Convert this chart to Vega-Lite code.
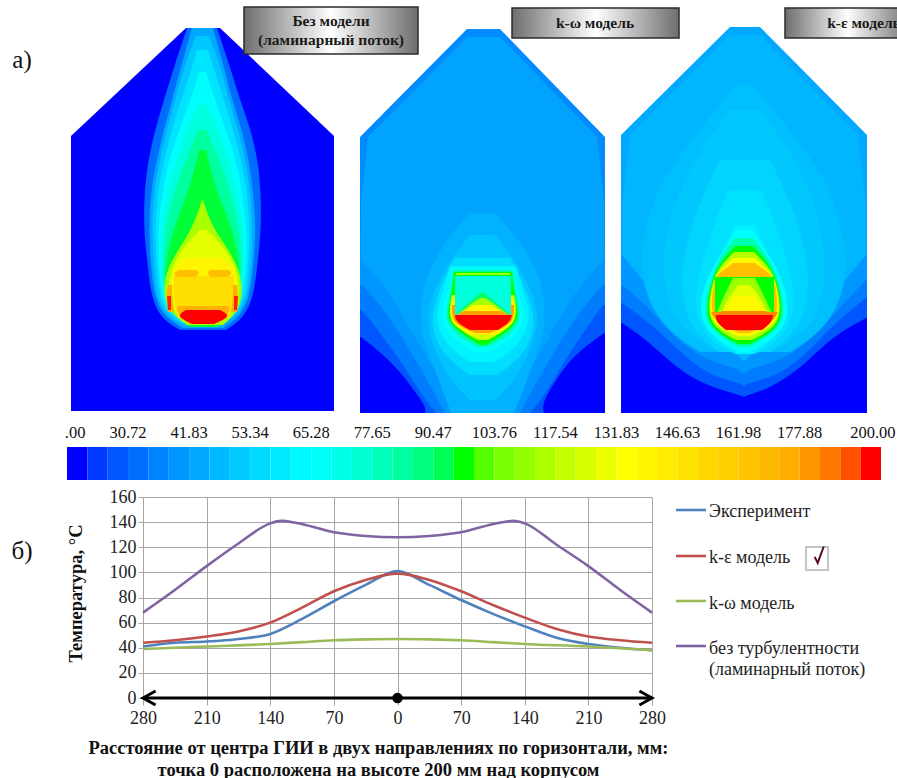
{
"$schema":"https://vega.github.io/schema/vega-lite/v6.json",
"padding":0,
"background":"white",
"config":{"view":{"stroke":null},"font":"Liberation Serif"},
"bounds":"flush",
"spacing":0,
"resolve":{"scale":{"color":"independent"}},
"datasets":{
"outline":[
{"s":"a0","T":20,"y":28,"l":186,"r":220},{"s":"a0","T":20,"y":136,"l":71,"r":334},{"s":"a0","T":20,"y":411,"l":71,"r":334},
{"s":"b0","T":36,"y":29,"l":467,"r":500},{"s":"b0","T":36,"y":137,"l":360,"r":605},{"s":"b0","T":36,"y":413,"l":360,"r":605},
{"s":"b00","T":41,"y":37,"l":467,"r":500},{"s":"b00","T":41,"y":137,"l":368,"r":597},{"s":"b00","T":41,"y":200,"l":361,"r":604},{"s":"b00","T":41,"y":413,"l":360,"r":605},
{"s":"c0","T":42,"y":27,"l":730,"r":760},{"s":"c0","T":42,"y":135,"l":621,"r":867},{"s":"c0","T":42,"y":413,"l":621,"r":867},
{"s":"c00","T":45,"y":35,"l":730,"r":760},{"s":"c00","T":45,"y":135,"l":630,"r":858},{"s":"c00","T":45,"y":200,"l":623,"r":865},{"s":"c00","T":45,"y":413,"l":621,"r":867}
],
"contours":[
{"s":"a1","T":30,"y":28,"l":187,"r":217},{"s":"a1","T":30,"y":67,"l":174,"r":230},{"s":"a1","T":30,"y":100,"l":164,"r":240},{"s":"a1","T":30,"y":133,"l":154,"r":252},{"s":"a1","T":30,"y":167,"l":147,"r":259},{"s":"a1","T":30,"y":200,"l":144,"r":261},{"s":"a1","T":30,"y":233,"l":144,"r":261},{"s":"a1","T":30,"y":267,"l":148,"r":257},{"s":"a1","T":30,"y":295,"l":151,"r":254},{"s":"a1","T":30,"y":318,"l":160,"r":244},{"s":"a1","T":30,"y":330,"l":180,"r":226},
{"s":"a2","T":42,"y":28,"l":192,"r":213},{"s":"a2","T":42,"y":67,"l":181,"r":224},{"s":"a2","T":42,"y":100,"l":172,"r":232},{"s":"a2","T":42,"y":133,"l":163,"r":243},{"s":"a2","T":42,"y":167,"l":155,"r":250},{"s":"a2","T":42,"y":200,"l":150,"r":254},{"s":"a2","T":42,"y":233,"l":149,"r":256},{"s":"a2","T":42,"y":267,"l":151,"r":253},{"s":"a2","T":42,"y":295,"l":154,"r":250},{"s":"a2","T":42,"y":316,"l":163,"r":241},{"s":"a2","T":42,"y":328,"l":183,"r":223},
{"s":"a25","T":49,"y":36,"l":196,"r":209},{"s":"a25","T":49,"y":67,"l":184,"r":221},{"s":"a25","T":49,"y":100,"l":175,"r":229},{"s":"a25","T":49,"y":133,"l":166,"r":239},{"s":"a25","T":49,"y":167,"l":158,"r":247},{"s":"a25","T":49,"y":200,"l":153,"r":251},{"s":"a25","T":49,"y":233,"l":152,"r":253},{"s":"a25","T":49,"y":267,"l":154,"r":251},{"s":"a25","T":49,"y":295,"l":156,"r":248},{"s":"a25","T":49,"y":315,"l":165,"r":239},{"s":"a25","T":49,"y":326,"l":186,"r":220},
{"s":"a3","T":56,"y":50,"l":197,"r":208},{"s":"a3","T":56,"y":75,"l":190,"r":216},{"s":"a3","T":56,"y":100,"l":181,"r":224},{"s":"a3","T":56,"y":133,"l":171,"r":234},{"s":"a3","T":56,"y":167,"l":162,"r":243},{"s":"a3","T":56,"y":200,"l":157,"r":248},{"s":"a3","T":56,"y":233,"l":155,"r":250},{"s":"a3","T":56,"y":267,"l":157,"r":248},{"s":"a3","T":56,"y":295,"l":159,"r":246},{"s":"a3","T":56,"y":314,"l":167,"r":237},{"s":"a3","T":56,"y":325,"l":188,"r":218},
{"s":"a4","T":64,"y":72,"l":199,"r":206},{"s":"a4","T":64,"y":100,"l":191,"r":215},{"s":"a4","T":64,"y":133,"l":178,"r":227},{"s":"a4","T":64,"y":167,"l":167,"r":238},{"s":"a4","T":64,"y":200,"l":161,"r":243},{"s":"a4","T":64,"y":233,"l":158,"r":247},{"s":"a4","T":64,"y":267,"l":159,"r":246},{"s":"a4","T":64,"y":295,"l":161,"r":243},{"s":"a4","T":64,"y":313,"l":169,"r":235},{"s":"a4","T":64,"y":324,"l":190,"r":216},
{"s":"a45","T":72,"y":105,"l":198,"r":207},{"s":"a45","T":72,"y":133,"l":186,"r":219},{"s":"a45","T":72,"y":167,"l":174,"r":231},{"s":"a45","T":72,"y":200,"l":166,"r":239},{"s":"a45","T":72,"y":233,"l":161,"r":244},{"s":"a45","T":72,"y":267,"l":161,"r":244},{"s":"a45","T":72,"y":295,"l":163,"r":241},{"s":"a45","T":72,"y":312,"l":171,"r":233},{"s":"a45","T":72,"y":323,"l":192,"r":214},
{"s":"a5","T":82,"y":130,"l":198,"r":207},{"s":"a5","T":82,"y":167,"l":183,"r":222},{"s":"a5","T":82,"y":200,"l":172,"r":233},{"s":"a5","T":82,"y":233,"l":165,"r":240},{"s":"a5","T":82,"y":267,"l":163,"r":242},{"s":"a5","T":82,"y":295,"l":165,"r":239},{"s":"a5","T":82,"y":312,"l":173,"r":232},{"s":"a5","T":82,"y":323,"l":192,"r":214},
{"s":"a6","T":93,"y":150,"l":199,"r":206},{"s":"a6","T":93,"y":175,"l":193,"r":212},{"s":"a6","T":93,"y":200,"l":185,"r":220},{"s":"a6","T":93,"y":233,"l":172,"r":234},{"s":"a6","T":93,"y":267,"l":165,"r":240},{"s":"a6","T":93,"y":295,"l":165,"r":240},{"s":"a6","T":93,"y":312,"l":172,"r":234},{"s":"a6","T":93,"y":327,"l":190,"r":218},
{"s":"a7","T":112,"y":200,"l":202,"r":203},{"s":"a7","T":112,"y":227,"l":193,"r":212},{"s":"a7","T":112,"y":247,"l":180,"r":227},{"s":"a7","T":112,"y":267,"l":168,"r":238},{"s":"a7","T":112,"y":287,"l":163,"r":243},{"s":"a7","T":112,"y":310,"l":167,"r":240},{"s":"a7","T":112,"y":325,"l":187,"r":223},
{"s":"a8","T":125,"y":230,"l":200,"r":207},{"s":"a8","T":125,"y":243,"l":187,"r":220},{"s":"a8","T":125,"y":260,"l":175,"r":233},{"s":"a8","T":125,"y":283,"l":168,"r":240},{"s":"a8","T":125,"y":307,"l":168,"r":237},{"s":"a8","T":125,"y":322,"l":188,"r":220},
{"s":"a9","T":137,"y":258,"l":185,"r":222},{"s":"a9","T":137,"y":267,"l":175,"r":233},{"s":"a9","T":137,"y":272,"l":172,"r":236},{"s":"a9","T":137,"y":300,"l":172,"r":236},{"s":"a9","T":137,"y":319,"l":186,"r":222},
{"s":"a10","T":148,"y":276,"l":174,"r":234},{"s":"a10","T":148,"y":300,"l":174,"r":234},{"s":"a10","T":148,"y":318,"l":178,"r":230},
{"s":"a11","T":172,"y":285,"l":168,"r":172},{"s":"a11","T":172,"y":295,"l":166,"r":172},{"s":"a11","T":172,"y":312,"l":168,"r":174},
{"s":"a12","T":198,"y":296,"l":167,"r":171},{"s":"a12","T":198,"y":310,"l":168,"r":171},
{"s":"a13","T":172,"y":285,"l":233,"r":237},{"s":"a13","T":172,"y":298,"l":233,"r":238},{"s":"a13","T":172,"y":312,"l":231,"r":237},
{"s":"a14","T":198,"y":296,"l":234,"r":238},{"s":"a14","T":198,"y":310,"l":234,"r":237},
{"s":"a15","T":165,"y":270,"l":180,"r":196},{"s":"a15","T":165,"y":273,"l":172,"r":200},{"s":"a15","T":165,"y":277,"l":178,"r":195},
{"s":"a16","T":165,"y":270,"l":210,"r":228},{"s":"a16","T":165,"y":273,"l":207,"r":233},{"s":"a16","T":165,"y":277,"l":211,"r":227},
{"s":"a17","T":172,"y":306,"l":178,"r":228},{"s":"a17","T":172,"y":312,"l":176,"r":231},{"s":"a17","T":172,"y":321,"l":187,"r":218},
{"s":"a18","T":200,"y":310,"l":186,"r":220},{"s":"a18","T":200,"y":315,"l":178,"r":229},{"s":"a18","T":200,"y":319,"l":182,"r":225},{"s":"a18","T":200,"y":324,"l":192,"r":214},

{"s":"b1","T":38,"y":260,"l":360,"r":361},{"s":"b1","T":38,"y":285,"l":360,"r":385},{"s":"b1","T":38,"y":320,"l":360,"r":405},{"s":"b1","T":38,"y":360,"l":360,"r":428},{"s":"b1","T":38,"y":413,"l":360,"r":465},
{"s":"b2","T":38,"y":260,"l":604,"r":605},{"s":"b2","T":38,"y":285,"l":580,"r":605},{"s":"b2","T":38,"y":320,"l":558,"r":605},{"s":"b2","T":38,"y":360,"l":537,"r":605},{"s":"b2","T":38,"y":413,"l":500,"r":605},
{"s":"b3","T":33,"y":285,"l":360,"r":362},{"s":"b3","T":33,"y":310,"l":360,"r":385},{"s":"b3","T":33,"y":350,"l":360,"r":410},{"s":"b3","T":33,"y":385,"l":360,"r":430},{"s":"b3","T":33,"y":413,"l":360,"r":445},
{"s":"b4","T":33,"y":285,"l":603,"r":605},{"s":"b4","T":33,"y":310,"l":580,"r":605},{"s":"b4","T":33,"y":350,"l":555,"r":605},{"s":"b4","T":33,"y":385,"l":535,"r":605},{"s":"b4","T":33,"y":413,"l":520,"r":605},
{"s":"b5","T":27,"y":310,"l":360,"r":362},{"s":"b5","T":27,"y":330,"l":360,"r":378},{"s":"b5","T":27,"y":360,"l":360,"r":400},{"s":"b5","T":27,"y":395,"l":360,"r":422},{"s":"b5","T":27,"y":413,"l":360,"r":436},
{"s":"b6","T":27,"y":305,"l":603,"r":605},{"s":"b6","T":27,"y":330,"l":585,"r":605},{"s":"b6","T":27,"y":360,"l":565,"r":605},{"s":"b6","T":27,"y":395,"l":545,"r":605},{"s":"b6","T":27,"y":413,"l":530,"r":605},
{"s":"b7","T":20,"y":337,"l":360,"r":361},{"s":"b7","T":20,"y":350,"l":360,"r":378},{"s":"b7","T":20,"y":370,"l":360,"r":399},{"s":"b7","T":20,"y":393,"l":360,"r":416},{"s":"b7","T":20,"y":407,"l":360,"r":426},{"s":"b7","T":20,"y":413,"l":360,"r":425},
{"s":"b8","T":20,"y":333,"l":604,"r":605},{"s":"b8","T":20,"y":353,"l":577,"r":605},{"s":"b8","T":20,"y":367,"l":565,"r":605},{"s":"b8","T":20,"y":383,"l":554,"r":605},{"s":"b8","T":20,"y":403,"l":542,"r":605},{"s":"b8","T":20,"y":413,"l":544,"r":605},
{"s":"b11","T":44,"y":213,"l":470,"r":495},{"s":"b11","T":44,"y":235,"l":450,"r":515},{"s":"b11","T":44,"y":267,"l":430,"r":537},{"s":"b11","T":44,"y":300,"l":420,"r":545},{"s":"b11","T":44,"y":333,"l":420,"r":545},{"s":"b11","T":44,"y":367,"l":434,"r":532},{"s":"b11","T":44,"y":413,"l":451,"r":514},
{"s":"b12","T":48,"y":235,"l":470,"r":495},{"s":"b12","T":48,"y":260,"l":450,"r":515},{"s":"b12","T":48,"y":290,"l":433,"r":532},{"s":"b12","T":48,"y":320,"l":426,"r":540},{"s":"b12","T":48,"y":350,"l":434,"r":530},{"s":"b12","T":48,"y":380,"l":450,"r":516},{"s":"b12","T":48,"y":400,"l":470,"r":495},
{"s":"b13","T":54,"y":258,"l":455,"r":510},{"s":"b13","T":54,"y":275,"l":445,"r":520},{"s":"b13","T":54,"y":300,"l":436,"r":530},{"s":"b13","T":54,"y":325,"l":430,"r":536},{"s":"b13","T":54,"y":355,"l":442,"r":525},{"s":"b13","T":54,"y":375,"l":470,"r":497},
{"s":"b14","T":60,"y":266,"l":450,"r":516},{"s":"b14","T":60,"y":300,"l":440,"r":526},{"s":"b14","T":60,"y":320,"l":435,"r":531},{"s":"b14","T":60,"y":345,"l":445,"r":520},{"s":"b14","T":60,"y":362,"l":470,"r":495},
{"s":"b15","T":65,"y":268,"l":452,"r":514},{"s":"b15","T":65,"y":290,"l":449,"r":517},{"s":"b15","T":65,"y":315,"l":440,"r":526},{"s":"b15","T":65,"y":335,"l":447,"r":519},{"s":"b15","T":65,"y":352,"l":475,"r":490},
{"s":"b16","T":80,"y":270,"l":453,"r":513},{"s":"b16","T":80,"y":300,"l":449,"r":517},{"s":"b16","T":80,"y":318,"l":444,"r":522},{"s":"b16","T":80,"y":335,"l":455,"r":511},{"s":"b16","T":80,"y":347,"l":478,"r":488},
{"s":"b17","T":95,"y":272,"l":454,"r":512},{"s":"b17","T":95,"y":300,"l":451,"r":515},{"s":"b17","T":95,"y":318,"l":446,"r":520},{"s":"b17","T":95,"y":332,"l":458,"r":508},{"s":"b17","T":95,"y":345,"l":480,"r":486},
{"s":"b18","T":120,"y":295,"l":452,"r":514},{"s":"b18","T":120,"y":318,"l":448,"r":518},{"s":"b18","T":120,"y":330,"l":460,"r":506},{"s":"b18","T":120,"y":340,"l":478,"r":488},
{"s":"b19","T":140,"y":300,"l":452,"r":514},{"s":"b19","T":140,"y":320,"l":449,"r":516},{"s":"b19","T":140,"y":328,"l":458,"r":508},{"s":"b19","T":140,"y":335,"l":470,"r":495},
{"s":"b20","T":175,"y":305,"l":452,"r":514},{"s":"b20","T":175,"y":320,"l":452,"r":514},{"s":"b20","T":175,"y":326,"l":460,"r":506},{"s":"b20","T":175,"y":333,"l":475,"r":490},
{"s":"b21","T":72,"y":276,"l":455,"r":511},{"s":"b21","T":72,"y":316,"l":455,"r":511},
{"s":"b22","T":110,"y":273,"l":456,"r":510},{"s":"b22","T":110,"y":275,"l":456,"r":510},
{"s":"b23","T":88,"y":292,"l":482,"r":483},{"s":"b23","T":88,"y":305,"l":465,"r":500},{"s":"b23","T":88,"y":316,"l":455,"r":511},
{"s":"b24","T":112,"y":298,"l":480,"r":485},{"s":"b24","T":112,"y":306,"l":468,"r":497},{"s":"b24","T":112,"y":316,"l":456,"r":510},
{"s":"b25","T":135,"y":305,"l":474,"r":491},{"s":"b25","T":135,"y":310,"l":466,"r":499},{"s":"b25","T":135,"y":316,"l":457,"r":509},
{"s":"b26","T":175,"y":311,"l":464,"r":501},{"s":"b26","T":175,"y":316,"l":455,"r":511},
{"s":"b27","T":200,"y":315,"l":455,"r":512},{"s":"b27","T":200,"y":322,"l":456,"r":510},{"s":"b27","T":200,"y":330,"l":470,"r":498},

{"s":"c1","T":38,"y":255,"l":621,"r":622},{"s":"c1","T":38,"y":280,"l":621,"r":643},{"s":"c1","T":38,"y":310,"l":621,"r":665},{"s":"c1","T":38,"y":335,"l":621,"r":690},{"s":"c1","T":38,"y":350,"l":621,"r":725},{"s":"c1","T":38,"y":358,"l":621,"r":750},{"s":"c1","T":38,"y":413,"l":621,"r":750},
{"s":"c2","T":38,"y":255,"l":866,"r":867},{"s":"c2","T":38,"y":280,"l":845,"r":867},{"s":"c2","T":38,"y":310,"l":823,"r":867},{"s":"c2","T":38,"y":335,"l":798,"r":867},{"s":"c2","T":38,"y":350,"l":763,"r":867},{"s":"c2","T":38,"y":358,"l":738,"r":867},{"s":"c2","T":38,"y":413,"l":738,"r":867},
{"s":"c3","T":33,"y":285,"l":621,"r":622},{"s":"c3","T":33,"y":305,"l":621,"r":646},{"s":"c3","T":33,"y":330,"l":621,"r":668},{"s":"c3","T":33,"y":355,"l":621,"r":695},{"s":"c3","T":33,"y":367,"l":621,"r":728},{"s":"c3","T":33,"y":372,"l":621,"r":750},{"s":"c3","T":33,"y":413,"l":621,"r":750},
{"s":"c4","T":33,"y":280,"l":866,"r":867},{"s":"c4","T":33,"y":305,"l":842,"r":867},{"s":"c4","T":33,"y":330,"l":820,"r":867},{"s":"c4","T":33,"y":355,"l":793,"r":867},{"s":"c4","T":33,"y":367,"l":760,"r":867},{"s":"c4","T":33,"y":372,"l":738,"r":867},{"s":"c4","T":33,"y":413,"l":738,"r":867},
{"s":"c5","T":27,"y":303,"l":621,"r":622},{"s":"c5","T":27,"y":323,"l":621,"r":650},{"s":"c5","T":27,"y":345,"l":621,"r":673},{"s":"c5","T":27,"y":370,"l":621,"r":700},{"s":"c5","T":27,"y":381,"l":621,"r":728},{"s":"c5","T":27,"y":385,"l":621,"r":750},{"s":"c5","T":27,"y":413,"l":621,"r":750},
{"s":"c6","T":27,"y":298,"l":866,"r":867},{"s":"c6","T":27,"y":320,"l":838,"r":867},{"s":"c6","T":27,"y":345,"l":815,"r":867},{"s":"c6","T":27,"y":370,"l":788,"r":867},{"s":"c6","T":27,"y":381,"l":760,"r":867},{"s":"c6","T":27,"y":385,"l":738,"r":867},{"s":"c6","T":27,"y":413,"l":738,"r":867},
{"s":"c7","T":20,"y":323,"l":621,"r":622},{"s":"c7","T":20,"y":340,"l":621,"r":647},{"s":"c7","T":20,"y":363,"l":621,"r":671},{"s":"c7","T":20,"y":383,"l":621,"r":699},{"s":"c7","T":20,"y":394,"l":621,"r":735},{"s":"c7","T":20,"y":398,"l":621,"r":750},{"s":"c7","T":20,"y":413,"l":621,"r":750},
{"s":"c8","T":20,"y":318,"l":866,"r":867},{"s":"c8","T":20,"y":337,"l":831,"r":867},{"s":"c8","T":20,"y":367,"l":803,"r":867},{"s":"c8","T":20,"y":388,"l":770,"r":867},{"s":"c8","T":20,"y":394,"l":752,"r":867},{"s":"c8","T":20,"y":398,"l":738,"r":867},{"s":"c8","T":20,"y":413,"l":738,"r":867},
{"s":"c11","T":47,"y":85,"l":735,"r":752},{"s":"c11","T":47,"y":130,"l":700,"r":790},{"s":"c11","T":47,"y":180,"l":660,"r":828},{"s":"c11","T":47,"y":240,"l":641,"r":846},{"s":"c11","T":47,"y":290,"l":642,"r":846},{"s":"c11","T":47,"y":330,"l":665,"r":825},{"s":"c11","T":47,"y":352,"l":700,"r":790},
{"s":"c12","T":49,"y":110,"l":730,"r":760},{"s":"c12","T":49,"y":150,"l":700,"r":790},{"s":"c12","T":49,"y":200,"l":675,"r":815},{"s":"c12","T":49,"y":250,"l":662,"r":826},{"s":"c12","T":49,"y":300,"l":665,"r":824},{"s":"c12","T":49,"y":330,"l":682,"r":808},{"s":"c12","T":49,"y":350,"l":715,"r":775},
{"s":"c13","T":52,"y":160,"l":720,"r":770},{"s":"c13","T":52,"y":200,"l":700,"r":790},{"s":"c13","T":52,"y":250,"l":684,"r":806},{"s":"c13","T":52,"y":290,"l":680,"r":810},{"s":"c13","T":52,"y":330,"l":690,"r":800},{"s":"c13","T":52,"y":352,"l":720,"r":770},
{"s":"c14","T":55,"y":190,"l":728,"r":762},{"s":"c14","T":55,"y":230,"l":712,"r":778},{"s":"c14","T":55,"y":270,"l":700,"r":790},{"s":"c14","T":55,"y":310,"l":692,"r":797},{"s":"c14","T":55,"y":340,"l":708,"r":781},{"s":"c14","T":55,"y":354,"l":735,"r":755},
{"s":"c15","T":59,"y":225,"l":735,"r":755},{"s":"c15","T":59,"y":240,"l":728,"r":762},{"s":"c15","T":59,"y":265,"l":716,"r":773},{"s":"c15","T":59,"y":300,"l":700,"r":788},{"s":"c15","T":59,"y":335,"l":707,"r":782},{"s":"c15","T":59,"y":354,"l":738,"r":752},
{"s":"c16","T":64,"y":230,"l":735,"r":752},{"s":"c16","T":64,"y":245,"l":727,"r":762},{"s":"c16","T":64,"y":260,"l":717,"r":772},{"s":"c16","T":64,"y":280,"l":706,"r":783},{"s":"c16","T":64,"y":310,"l":698,"r":790},{"s":"c16","T":64,"y":335,"l":708,"r":781},{"s":"c16","T":64,"y":352,"l":740,"r":748},
{"s":"c17","T":80,"y":238,"l":735,"r":753},{"s":"c17","T":80,"y":255,"l":721,"r":767},{"s":"c17","T":80,"y":275,"l":712,"r":777},{"s":"c17","T":80,"y":310,"l":703,"r":786},{"s":"c17","T":80,"y":330,"l":710,"r":779},{"s":"c17","T":80,"y":347,"l":738,"r":750},
{"s":"c18","T":95,"y":246,"l":735,"r":753},{"s":"c18","T":95,"y":258,"l":724,"r":764},{"s":"c18","T":95,"y":275,"l":713,"r":776},{"s":"c18","T":95,"y":310,"l":705,"r":784},{"s":"c18","T":95,"y":330,"l":712,"r":777},{"s":"c18","T":95,"y":344,"l":738,"r":750},
{"s":"c19","T":115,"y":252,"l":734,"r":754},{"s":"c19","T":115,"y":262,"l":724,"r":764},{"s":"c19","T":115,"y":275,"l":714,"r":775},{"s":"c19","T":115,"y":310,"l":707,"r":782},{"s":"c19","T":115,"y":328,"l":714,"r":775},{"s":"c19","T":115,"y":340,"l":736,"r":752},
{"s":"c20","T":135,"y":258,"l":733,"r":755},{"s":"c20","T":135,"y":268,"l":723,"r":765},{"s":"c20","T":135,"y":276,"l":714,"r":775},{"s":"c20","T":135,"y":312,"l":708,"r":781},{"s":"c20","T":135,"y":326,"l":716,"r":773},{"s":"c20","T":135,"y":336,"l":738,"r":750},
{"s":"c21","T":165,"y":263,"l":733,"r":755},{"s":"c21","T":165,"y":270,"l":724,"r":764},{"s":"c21","T":165,"y":276,"l":714,"r":775},{"s":"c21","T":165,"y":312,"l":710,"r":779},{"s":"c21","T":165,"y":324,"l":718,"r":771},{"s":"c21","T":165,"y":333,"l":738,"r":750},
{"s":"c22","T":95,"y":277,"l":715,"r":774},{"s":"c22","T":95,"y":316,"l":715,"r":774},
{"s":"c23","T":110,"y":278,"l":733,"r":755},{"s":"c23","T":110,"y":300,"l":722,"r":766},{"s":"c23","T":110,"y":316,"l":716,"r":773},
{"s":"c24","T":125,"y":285,"l":738,"r":750},{"s":"c24","T":125,"y":300,"l":727,"r":762},{"s":"c24","T":125,"y":316,"l":720,"r":769},
{"s":"c25","T":135,"y":296,"l":735,"r":753},{"s":"c25","T":135,"y":306,"l":727,"r":761},{"s":"c25","T":135,"y":316,"l":722,"r":767},
{"s":"c26","T":180,"y":311,"l":722,"r":766},{"s":"c26","T":180,"y":316,"l":716,"r":772},
{"s":"c27","T":180,"y":312,"l":711,"r":778},{"s":"c27","T":180,"y":322,"l":716,"r":773},{"s":"c27","T":180,"y":331,"l":738,"r":750},
{"s":"c28","T":200,"y":315,"l":716,"r":773},{"s":"c28","T":200,"y":322,"l":716,"r":772},{"s":"c28","T":200,"y":330,"l":726,"r":762}
],
"headers":[{"xa":244,"xb":418,"ya":7,"yb":54},{"xa":512,"xb":679,"ya":8,"yb":38},{"xa":785,"xb":910,"ya":8,"yb":38}],
"headerText":[{"t":"Без модели","x":331,"y":21,"a":"center"},{"t":"(ламинарный поток)","x":331,"y":40,"a":"center"},{"t":"k-ω модель","x":595,"y":23,"a":"center"},{"t":"k-ε модель","x":864,"y":23,"a":"center"}],
"bins":[{"i":0,"e":1,"T":20},{"i":1,"e":2,"T":23.5},{"i":2,"e":3,"T":27},{"i":3,"e":4,"T":30.72},{"i":4,"e":5,"T":34.4},{"i":5,"e":6,"T":38.1},{"i":6,"e":7,"T":41.83},{"i":7,"e":8,"T":45.6},{"i":8,"e":9,"T":49.5},{"i":9,"e":10,"T":53.34},{"i":10,"e":11,"T":57.3},{"i":11,"e":12,"T":61.3},{"i":12,"e":13,"T":65.28},{"i":13,"e":14,"T":69.4},{"i":14,"e":15,"T":73.5},{"i":15,"e":16,"T":77.65},{"i":16,"e":17,"T":81.9},{"i":17,"e":18,"T":86.2},{"i":18,"e":19,"T":90.47},{"i":19,"e":20,"T":95},{"i":20,"e":21,"T":99.3},{"i":21,"e":22,"T":103.76},{"i":22,"e":23,"T":108.3},{"i":23,"e":24,"T":112.9},{"i":24,"e":25,"T":117.54},{"i":25,"e":26,"T":122.3},{"i":26,"e":27,"T":127},{"i":27,"e":28,"T":131.83},{"i":28,"e":29,"T":136.7},{"i":29,"e":30,"T":141.6},{"i":30,"e":31,"T":146.63},{"i":31,"e":32,"T":151.7},{"i":32,"e":33,"T":156.8},{"i":33,"e":34,"T":161.98},{"i":34,"e":35,"T":167.2},{"i":35,"e":36,"T":172.5},{"i":36,"e":37,"T":177.88},{"i":37,"e":38,"T":183.3},{"i":38,"e":39,"T":190},{"i":39,"e":40,"T":200}],
"binLabels":[{"i":0.4,"t":".00"},{"i":3,"t":"30.72"},{"i":6,"t":"41.83"},{"i":9,"t":"53.34"},{"i":12,"t":"65.28"},{"i":15,"t":"77.65"},{"i":18,"t":"90.47"},{"i":21,"t":"103.76"},{"i":24,"t":"117.54"},{"i":27,"t":"131.83"},{"i":30,"t":"146.63"},{"i":33,"t":"161.98"},{"i":36,"t":"177.88"},{"i":39.6,"t":"200.00"}],
"curves":[
{"m":"без турбулентности","d":-280,"v":68},{"m":"без турбулентности","d":-245,"v":86},{"m":"без турбулентности","d":-210,"v":105},{"m":"без турбулентности","d":-175,"v":123},{"m":"без турбулентности","d":-140,"v":139},{"m":"без турбулентности","d":-128,"v":141},{"m":"без турбулентности","d":-112,"v":139.5},{"m":"без турбулентности","d":-70,"v":132},{"m":"без турбулентности","d":-35,"v":129},{"m":"без турбулентности","d":0,"v":128},{"m":"без турбулентности","d":35,"v":129},{"m":"без турбулентности","d":70,"v":132},{"m":"без турбулентности","d":112,"v":139.5},{"m":"без турбулентности","d":128,"v":141},{"m":"без турбулентности","d":140,"v":139},{"m":"без турбулентности","d":175,"v":122},{"m":"без турбулентности","d":210,"v":105},{"m":"без турбулентности","d":245,"v":86},{"m":"без турбулентности","d":280,"v":68},
{"m":"Эксперимент","d":-280,"v":41},{"m":"Эксперимент","d":-245,"v":44},{"m":"Эксперимент","d":-210,"v":45},{"m":"Эксперимент","d":-175,"v":47},{"m":"Эксперимент","d":-140,"v":51},{"m":"Эксперимент","d":-105,"v":63},{"m":"Эксперимент","d":-70,"v":77},{"m":"Эксперимент","d":-35,"v":90},{"m":"Эксперимент","d":0,"v":101},{"m":"Эксперимент","d":35,"v":90},{"m":"Эксперимент","d":70,"v":78},{"m":"Эксперимент","d":105,"v":67},{"m":"Эксперимент","d":140,"v":57},{"m":"Эксперимент","d":175,"v":48},{"m":"Эксперимент","d":210,"v":43},{"m":"Эксперимент","d":245,"v":40},{"m":"Эксперимент","d":280,"v":38},
{"m":"k-ε модель","d":-280,"v":44},{"m":"k-ε модель","d":-245,"v":46},{"m":"k-ε модель","d":-210,"v":49},{"m":"k-ε модель","d":-175,"v":53},{"m":"k-ε модель","d":-140,"v":60},{"m":"k-ε модель","d":-105,"v":72},{"m":"k-ε модель","d":-70,"v":85},{"m":"k-ε модель","d":-35,"v":94},{"m":"k-ε модель","d":0,"v":99},{"m":"k-ε модель","d":35,"v":94},{"m":"k-ε модель","d":70,"v":85},{"m":"k-ε модель","d":105,"v":74},{"m":"k-ε модель","d":140,"v":64},{"m":"k-ε модель","d":175,"v":55},{"m":"k-ε модель","d":210,"v":49},{"m":"k-ε модель","d":245,"v":46},{"m":"k-ε модель","d":280,"v":44},
{"m":"k-ω модель","d":-280,"v":39},{"m":"k-ω модель","d":-210,"v":41},{"m":"k-ω модель","d":-140,"v":43},{"m":"k-ω модель","d":-105,"v":44.5},{"m":"k-ω модель","d":-70,"v":46},{"m":"k-ω модель","d":-35,"v":46.7},{"m":"k-ω модель","d":0,"v":47},{"m":"k-ω модель","d":35,"v":46.7},{"m":"k-ω модель","d":70,"v":46},{"m":"k-ω модель","d":105,"v":44.5},{"m":"k-ω модель","d":140,"v":43},{"m":"k-ω модель","d":210,"v":41},{"m":"k-ω модель","d":280,"v":38}
],
"legendRows":[{"m":"Эксперимент","p":510},{"m":"k-ε модель","p":556},{"m":"k-ω модель","p":601},{"m":"без турбулентности","p":646}],
"legendText":[{"t":"Эксперимент","p":512},{"t":"k-ε модель","p":558},{"t":"k-ω модель","p":604},{"t":"без турбулентности","p":649},{"t":"(ламинарный поток)","p":670}]
},
"vconcat":[
{"width":897,"height":420,
 "layer":[
 {"data":{"name":"outline"},"mark":{"type":"area","orient":"horizontal","interpolate":"linear"},
  "encoding":{"y":{"field":"y","type":"quantitative","scale":{"domain":[420,0],"nice":false},"axis":null},
   "x":{"field":"l","type":"quantitative","scale":{"domain":[0,897],"nice":false},"axis":null},"x2":{"field":"r"},
   "detail":{"field":"s"},
   "color":{"field":"T","type":"quantitative","legend":null,"scale":{"domain":[20,63,95,132,172,190,200],"range":["#0000ff","#00ffff","#00ff00","#ffff00","#ffb000","#ff5000","#ff0000"]}}}},
 {"data":{"name":"contours"},"mark":{"type":"area","orient":"horizontal","interpolate":"basis"},
  "encoding":{"y":{"field":"y","type":"quantitative","axis":null},
   "x":{"field":"l","type":"quantitative","axis":null},"x2":{"field":"r"},
   "detail":{"field":"s"},
   "color":{"field":"T","type":"quantitative","legend":null}}},
 {"data":{"name":"headers"},"mark":{"type":"rect","clip":true,"xOffset":2,"yOffset":3,"fill":"#8a8a8a","opacity":0.6},
  "encoding":{"x":{"field":"xa","type":"quantitative","axis":null},"x2":{"field":"xb"},"y":{"field":"ya","type":"quantitative","axis":null},"y2":{"field":"yb"}}},
 {"data":{"name":"headers"},"mark":{"type":"rect","clip":true,"stroke":"#2b2b2b","strokeWidth":1.5,"fill":{"gradient":"linear","x1":0,"x2":1,"y1":0,"y2":0,"stops":[{"offset":0,"color":"#6e6e6e"},{"offset":0.5,"color":"#ffffff"},{"offset":1,"color":"#6e6e6e"}]}},
  "encoding":{"x":{"field":"xa","type":"quantitative","axis":null},"x2":{"field":"xb"},"y":{"field":"ya","type":"quantitative","axis":null},"y2":{"field":"yb"}}},
 {"data":{"name":"headerText"},"mark":{"type":"text","font":"Liberation Serif","fontWeight":"bold","fontSize":15.5,"baseline":"middle","color":"#1a1a1a","clip":true},
  "encoding":{"x":{"field":"x","type":"quantitative","axis":null},"y":{"field":"y","type":"quantitative","axis":null},"text":{"field":"t"}}},
 {"data":{"values":[{"t":"а)","x":22,"y":60}]},"mark":{"type":"text","font":"Liberation Serif","fontSize":25,"baseline":"middle","color":"#111"},
  "encoding":{"x":{"field":"x","type":"quantitative","axis":null},"y":{"field":"y","type":"quantitative","axis":null},"text":{"field":"t"}}}
 ]},
{"width":897,"height":77,
 "layer":[
 {"data":{"name":"bins"},"mark":{"type":"rect"},
  "encoding":{"x":{"field":"i","type":"quantitative","scale":{"domain":[-3.292,40.786],"nice":false,"zero":false},"axis":null},"x2":{"field":"e"},
   "y":{"datum":27,"type":"quantitative","scale":{"domain":[77,0],"nice":false},"axis":null},"y2":{"datum":60},
   "color":{"field":"T","type":"quantitative","legend":null,"scale":{"domain":[20,63,95,132,172,190,200],"range":["#0000ff","#00ffff","#00ff00","#ffff00","#ffb000","#ff5000","#ff0000"]}}}},
 {"data":{"name":"binLabels"},"mark":{"type":"text","font":"Liberation Sans Narrow","fontSize":16.5,"baseline":"middle","color":"#111"},
  "encoding":{"x":{"field":"i","type":"quantitative","axis":null},"y":{"datum":13,"type":"quantitative","axis":null},"text":{"field":"t"}}}
 ]},
{"bounds":"flush","spacing":0,"resolve":{"scale":{"color":"independent"}},"hconcat":[
 {"width":143,"height":201,"data":{"values":[{"t":"б)","x":22,"y":551}]},"mark":{"type":"text","font":"Liberation Serif","fontSize":25,"baseline":"middle","color":"#111"},
  "encoding":{"x":{"field":"x","type":"quantitative","scale":{"domain":[0,143],"nice":false},"axis":null},"y":{"field":"y","type":"quantitative","scale":{"domain":[698,497],"nice":false},"axis":null},"text":{"field":"t"}}},
 {"width":509,"height":201,
  "layer":[
  {"data":{"name":"curves"},"mark":{"type":"line","strokeWidth":2.6,"interpolate":"monotone"},
   "encoding":{
    "x":{"field":"d","type":"quantitative","scale":{"domain":[-280,280],"nice":false,"zero":false},
     "axis":{"values":[-280,-210,-140,-70,0,70,140,210,280],"labelExpr":"abs(datum.value)","grid":true,"gridColor":"#a6a6a6","gridWidth":1,"domain":false,"tickColor":"#a6a6a6","tickSize":7,"labelFont":"Liberation Serif","labelFontSize":18,"labelColor":"#222","labelPadding":4,"labelOverlap":false,"labelFlush":false,
      "title":["Расстояние от центра ГИИ в двух  направлениях по горизонтали, мм:","точка 0 расположена на высоте 200 мм над корпусом"],"titleFont":"Liberation Serif","titleFontWeight":"bold","titleFontSize":18.5,"titleColor":"#111","titleX":235,"titleY":49,"titleBaseline":"middle","titleLineHeight":22}},
    "y":{"field":"v","type":"quantitative","scale":{"domain":[0,160],"nice":false},
     "axis":{"values":[0,20,40,60,80,100,120,140,160],"tickCount":9,"labelOverlap":false,"labelFlush":false,"grid":true,"gridColor":"#a6a6a6","gridWidth":1,"domainColor":"#a6a6a6","tickColor":"#a6a6a6","tickSize":5,"labelFont":"Liberation Serif","labelFontSize":18,"labelColor":"#222","labelPadding":2,
      "title":"Температура, °C","titleFont":"Liberation Serif","titleFontWeight":"bold","titleFontSize":18.5,"titleColor":"#111","titleX":-58,"titleY":96}},
    "detail":{"field":"m"},
    "color":{"field":"m","type":"nominal","legend":null,"scale":{"domain":["Эксперимент","k-ε модель","k-ω модель","без турбулентности"],"range":["#4f81bd","#c0504d","#9bbb59","#8064a2"]}}}},
  {"data":{"values":[{"a":-280,"b":280,"v":0}]},"mark":{"type":"rule","color":"#000","strokeWidth":3},
   "encoding":{"x":{"field":"a","type":"quantitative"},"x2":{"field":"b"},"y":{"field":"v","type":"quantitative","axis":{"values":[0,20,40,60,80,100,120,140,160],"tickCount":9}}}},
  {"data":{"values":[{"a":-280,"v":0}]},"mark":{"type":"point","shape":"M 1.8 -1 L 0 0 L 1.8 1","size":196,"filled":false,"color":"#000","strokeWidth":3,"opacity":1},
   "encoding":{"x":{"field":"a","type":"quantitative"},"y":{"field":"v","type":"quantitative","axis":{"values":[0,20,40,60,80,100,120,140,160],"tickCount":9}}}},
  {"data":{"values":[{"a":280,"v":0}]},"mark":{"type":"point","shape":"M -1.8 -1 L 0 0 L -1.8 1","size":196,"filled":false,"color":"#000","strokeWidth":3,"opacity":1},
   "encoding":{"x":{"field":"a","type":"quantitative"},"y":{"field":"v","type":"quantitative","axis":{"values":[0,20,40,60,80,100,120,140,160],"tickCount":9}}}},
  {"data":{"values":[{"a":0,"v":0}]},"mark":{"type":"point","shape":"circle","size":110,"filled":true,"color":"#000","opacity":1},
   "encoding":{"x":{"field":"a","type":"quantitative"},"y":{"field":"v","type":"quantitative","axis":{"values":[0,20,40,60,80,100,120,140,160],"tickCount":9}}}}
  ]},
 {"width":245,"height":201,
  "layer":[
  {"data":{"name":"legendRows"},"mark":{"type":"rule","strokeWidth":2.6},
   "encoding":{"x":{"datum":676,"type":"quantitative","scale":{"domain":[652,897],"nice":false},"axis":null},"x2":{"datum":706},
    "y":{"field":"p","type":"quantitative","scale":{"domain":[698,497],"nice":false},"axis":null},
    "color":{"field":"m","type":"nominal","legend":null,"scale":{"domain":["Эксперимент","k-ε модель","k-ω модель","без турбулентности"],"range":["#4f81bd","#c0504d","#9bbb59","#8064a2"]}}}},
  {"data":{"name":"legendText"},"mark":{"type":"text","align":"left","baseline":"middle","font":"Liberation Serif","fontSize":18,"color":"#222"},
   "encoding":{"x":{"datum":709,"type":"quantitative","axis":null},"y":{"field":"p","type":"quantitative","axis":null},"text":{"field":"t"}}},
  {"data":{"values":[{"xa":806,"xb":828,"ya":547,"yb":570}]},"mark":{"type":"rect","fill":"#ffffff","stroke":"#c4c4c4","strokeWidth":2},
   "encoding":{"x":{"field":"xa","type":"quantitative","axis":null},"x2":{"field":"xb"},"y":{"field":"ya","type":"quantitative","axis":null},"y2":{"field":"yb"}}},
  {"data":{"values":[{"x":819,"y":556}]},"mark":{"type":"point","shape":"M -0.5 0.1 L -0.15 0.8 L 0.55 -1.1","size":300,"filled":false,"color":"#5a0a18","strokeWidth":2,"opacity":1},
   "encoding":{"x":{"field":"x","type":"quantitative","axis":null},"y":{"field":"y","type":"quantitative","axis":null}}}
  ]}
 ]}
]
}
